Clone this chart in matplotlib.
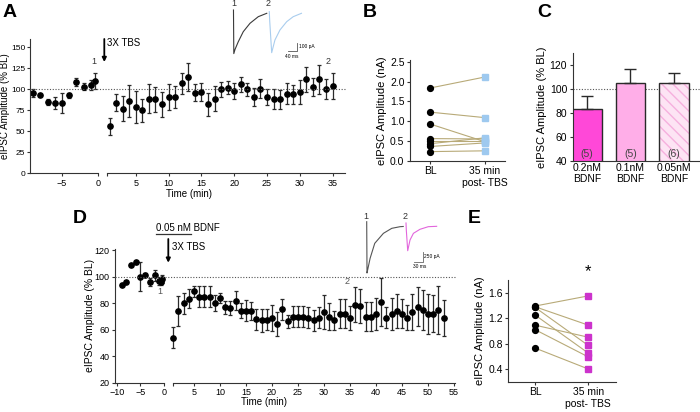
import matplotlib
matplotlib.use("Agg")
import matplotlib.pyplot as plt
from matplotlib.transforms import blended_transform_factory
from matplotlib.lines import Line2D

plt.rcParams['font.family'] = ['Liberation Sans', 'DejaVu Sans']

# ---------------- data ----------------
# Panel A
a_pre_t = [-9, -8, -7, -6, -5, -4, -3, -2, -1, -0.35]
a_pre_v = [96, 93, 85, 84, 84, 93, 109, 103, 105, 110]
a_pre_e = [5, 1, 4, 7, 12, 3, 5, 4, 6, 10]
a_post_t = list(range(1, 36))
a_post_v = [56, 84, 77, 86, 79, 75, 89, 88, 82, 91, 91, 107, 115, 96, 97, 82, 89, 100,
            102, 98, 106, 100, 91, 101, 91, 89, 88, 95, 94, 97, 112, 103, 112, 100, 104]
a_post_e = [10, 10, 15, 19, 19, 14, 17, 15, 15, 15, 13, 13, 17, 10, 11, 14, 15, 9,
            8, 9, 9, 8, 11, 11, 10, 12, 11, 12, 11, 14, 15, 11, 17, 12, 16]

# Panel B
b_bl = [1.84, 1.23, 0.93, 0.56, 0.50, 0.43, 0.36, 0.23]
b_post = [2.12, 1.09, 0.48, 0.55, 0.50, 0.58, 0.45, 0.25]
pair_labels = ['BL', '35 min\npost- TBS']

# Panel C
c_labels = ['0.2nM\nBDNF', '0.1nM\nBDNF', '0.05nM\nBDNF']
c_vals = [83, 105, 105]
c_errs = [11, 12, 8.5]
c_n = ['(5)', '(5)', '(6)']

# Panel D
d_pre_t = [-9, -8, -7, -6, -5, -4, -3, -2, -1, -0.65, -0.35]
d_pre_v = [94, 96, 109, 111, 100, 101.5, 96, 101, 97, 96, 98]
d_pre_e = [0.5, 0.5, 1, 1, 11, 1, 3, 4, 3, 2, 3]
d_post_t = list(range(1, 54))
d_post_v = [54, 74, 80, 83.5, 89, 85, 85, 85, 80, 84, 77, 76.5, 82, 74.5, 74.5, 74, 68, 67,
            67.5, 69, 64.5, 75.5, 66.5, 70, 70, 70, 69, 67, 69, 73.5, 70, 67, 72, 72, 69,
            79, 78, 70, 70, 72, 81, 69, 72, 74, 72, 69, 73.5, 77.5, 75, 72, 72, 75, 69]
d_post_e = [8, 11.5, 8, 7, 4, 8, 8, 8, 6, 4, 5, 5, 7, 6, 8, 7, 8, 9, 8, 10, 9, 8, 5, 8, 8,
            8, 8, 8, 8, 13, 10, 7, 11, 11, 9, 13, 13, 11, 11, 12, 18, 8, 12, 13, 11, 9.5,
            13.5, 15, 15, 15, 14, 18, 13.6]

# Panel E
e_bl = [1.39, 1.38, 1.37, 1.25, 1.09, 1.02, 0.73]
e_post = [1.55, 1.09, 0.77, 0.65, 0.90, 0.59, 0.40]

# example traces (ms, pA)
a_tr1_t = [0, 1.5, 7, 22, 45, 76, 114, 153]
a_tr1_i = [43, -524, -470, -370, -239, -130, -44, 0]
a_tr2_t = [0, 2, 11, 26, 49, 80, 110, 148]
a_tr2_i = [21, -100, -512, -347, -217, -109, -44, 0]
d_tr1_t = [0, 1, 3, 11, 26, 54, 81, 108, 118]
d_tr1_i = [107, -1175, -1100, -808, -433, -183, -58, -17, -12]
d_tr2_t = [0, 1, 5.5, 13, 24, 45, 72, 99]
d_tr2_i = [75, -100, -618, -350, -183, -83, -17, -8]

# ---------------- figure ----------------
W, H = 700, 412
fig = plt.figure(figsize=(7, 4.12), dpi=100)


def ax_px(x0, y0, x1, y1, **kw):
    return fig.add_axes([x0 / W, 1 - y1 / H, (x1 - x0) / W, (y1 - y0) / H], **kw)


def ftext(x, y, s, **kw):
    fig.text(x / W, 1 - y / H, s, **kw)


def style(ax, fs=6.5):
    for s in ['top', 'right']:
        ax.spines[s].set_visible(False)
    for s in ['left', 'bottom']:
        ax.spines[s].set_linewidth(0.8)
        ax.spines[s].set_color('#333333')
    ax.tick_params(labelsize=fs, length=2.5, width=0.8, color='#333333', pad=1.5)
    ax.patch.set_alpha(0)


ecol = '#2a2a2a'
ekw = dict(fmt='o', color='black', ms=3.8, ecolor=ecol, elinewidth=0.9, capsize=1.6, capthick=0.9)

# ===== Panel A =====
aL = ax_px(30, 39, 98, 173.3)
aR = ax_px(106.7, 39, 345, 173.3)
for ax in (aL, aR):
    style(ax)
    ax.set_ylim(0, 160)
aL.tick_params(axis='y', labelsize=6, pad=1)
aL.set_xlim(-9.44, 0)
aR.set_xlim(0.56, 36.9)
aL.set_yticks([0, 25, 50, 75, 100, 125, 150])
aL.set_xticks([-5, 0])
aR.set_xticks([5, 10, 15, 20, 25, 30, 35])
aR.set_xticks([0.56], minor=True)
aR.tick_params(which='minor', length=2.5, width=0.8, color='#333333')
aR.spines['left'].set_visible(False)
aR.set_yticks([])
aL.errorbar(a_pre_t, a_pre_v, yerr=a_pre_e, clip_on=False, **ekw)
aR.errorbar(a_post_t, a_post_v, yerr=a_post_e, clip_on=False, **ekw)
aL.set_ylabel('eIPSC Amplitude (% BL)', fontsize=7, va='center')
aL.yaxis.set_label_coords((5.5 - 30) / 68, 0.5)
aR.set_xlabel('Time (min)', fontsize=7, labelpad=1)
aR.xaxis.set_label_coords((189 - 106.7) / (345 - 106.7), -0.12)
trA = blended_transform_factory(fig.transFigure, aL.transData)
fig.add_artist(Line2D([30 / W, 345 / W], [100, 100], transform=trA, ls=(0, (1, 1.5)),
                      lw=0.8, color='#555555'))
ftext(3, 4, 'A', fontsize=14, fontweight='bold', va='top')
ftext(94, 62, '1', fontsize=6.5, ha='center', va='center', color='#333333')
ftext(328, 62, '2', fontsize=6.5, ha='center', va='center', color='#333333')
fig.add_artist(plt.Annotation('', xy=(104.3 / W, 1 - 62 / H), xytext=(104.3 / W, 1 - 39 / H),
                              xycoords='figure fraction', textcoords='figure fraction',
                              arrowprops=dict(arrowstyle='-|>', lw=1.3, color='black',
                                              mutation_scale=6, shrinkA=0, shrinkB=0)))
ftext(107, 43, '3X TBS', fontsize=7, va='center')

# A traces
tA = ax_px(230, 2, 310, 60)
tA.axis('off')
tA.set_xlim(-16, (310 - 233.5) * 4.6)
tA.set_ylim(-(60 - 13.3) * 13, (13.3 - 2) * 13)
tA.plot(a_tr1_t, a_tr1_i, color='#3a3a3a', lw=0.8)
off2 = (269.3 - 233.5) * 4.6
tA.plot([t + off2 for t in a_tr2_t], a_tr2_i, color='#a9cdee', lw=0.8)
sbx, sby = 290.7, -490
tA.plot([sbx - 40, sbx, sbx], [sby, sby, sby + 100], color='#555555', lw=0.6)
tA.text(sbx + 12, sby + 60, '100 pA', fontsize=3.5, va='center')
tA.text(sbx - 52, sby - 70, '40 ms', fontsize=3.5, va='center')
tA.text(0, 70, '1', fontsize=6.5, ha='center', va='bottom', color='#333333')
tA.text(off2 - 6, 70, '2', fontsize=6.5, ha='center', va='bottom', color='#333333')

# ===== Panel B =====
bx = ax_px(410, 60, 505, 160.7)
style(bx, 7.5)
bx.set_xlim(-0.364, 1.364)
bx.set_ylim(0, 2.55)
bx.set_yticks([0, 0.5, 1.0, 1.5, 2.0, 2.5])
bx.set_yticklabels(['0.0', '0.5', '1.0', '1.5', '2.0', '2.5'])
bx.set_xticks([0, 1])
bx.set_xticklabels(pair_labels, fontsize=7.5)
for a, b in zip(b_bl, b_post):
    bx.plot([0, 1], [a, b], color='#b8aa78', lw=0.8, zorder=1)
bx.plot([0] * len(b_bl), b_bl, 'o', color='black', ms=4.2, zorder=3, clip_on=False)
bx.plot([1] * len(b_post), b_post, 's', color='#9ec9ef', ms=4.2, zorder=3, clip_on=False)
bx.set_ylabel('eIPSC Amplitude (nA)', fontsize=8, labelpad=2)
ftext(363, 4, 'B', fontsize=14, fontweight='bold', va='top')

# ===== Panel C =====
cx = ax_px(572.7, 53.3, 700, 160.7)
style(cx, 7.5)
cx.set_xlim(-0.33, 2.6)
cx.set_ylim(40, 130)
cx.set_yticks([40, 60, 80, 100, 120])
cols = ['#ff48d8', '#ffaee8', '#fde4f4']
hatch_cols = ['none', 'none', '#f6b0de']
cx.axhline(100, ls=(0, (1, 1.5)), lw=0.8, color='#555555', zorder=1)
fill = cx.bar(range(3), c_vals, width=0.68, color=cols, edgecolor=hatch_cols, lw=0, zorder=2)
fill[2].set_hatch('\\\\\\')
fill[2].set_linewidth(0)
cx.bar(range(3), c_vals, width=0.68, fill=False, edgecolor='#2a2a2a', lw=1.0, zorder=3)
cx.errorbar(range(3), c_vals, yerr=[[0, 0, 0], c_errs], fmt='none', ecolor='#2a2a2a',
            elinewidth=1.0, capsize=4.5, capthick=1.0, zorder=3)
for i, n in enumerate(c_n):
    cx.text(i, 45.5, n, fontsize=7.5, ha='center', va='center', color='#444444', zorder=4)
cx.set_xticks(range(3))
cx.set_xticklabels(c_labels, fontsize=7.5)
cx.tick_params(axis='x', length=0)
cx.set_ylabel('eIPSC Amplitude (% BL)', fontsize=8, labelpad=2)
ftext(537, 4, 'C', fontsize=14, fontweight='bold', va='top')

# ===== Panel D =====
dL = ax_px(115, 249, 164, 382.7)
dR = ax_px(173.3, 249, 455, 382.7)
for ax in (dL, dR):
    style(ax)
    ax.set_ylim(20, 121)
dL.set_xlim(-10.4, 0)
dR.set_xlim(1.0, 55.2)
dL.set_yticks([20, 40, 60, 80, 100, 120])
dL.set_xticks([-10, -5, 0])
dR.set_xticks([5, 10, 15, 20, 25, 30, 35, 40, 45, 50, 55])
dR.set_xticks([1.0], minor=True)
dR.tick_params(which='minor', length=2.5, width=0.8, color='#333333')
dR.spines['left'].set_visible(False)
dR.set_yticks([])
dL.errorbar(d_pre_t, d_pre_v, yerr=d_pre_e, clip_on=False, **ekw)
dR.errorbar(d_post_t, d_post_v, yerr=d_post_e, clip_on=False, **ekw)
dL.set_ylabel('eIPSC Amplitude (% BL)', fontsize=7.5, va='center')
dL.yaxis.set_label_coords((90 - 115) / 49, 0.5)
dR.set_xlabel('Time (min)', fontsize=7, labelpad=1)
dR.xaxis.set_label_coords((264 - 173.3) / (455 - 173.3), -0.11)
trD = blended_transform_factory(fig.transFigure, dL.transData)
fig.add_artist(Line2D([115 / W, 455 / W], [100, 100], transform=trD, ls=(0, (1, 1.5)),
                      lw=0.8, color='#555555'))
ftext(73, 210, 'D', fontsize=14, fontweight='bold', va='top')
ftext(160, 291.5, '1', fontsize=6.5, ha='center', va='center', color='#555555')
ftext(346.7, 281.5, '2', fontsize=6.5, ha='center', va='center', color='#555555')
ftext(156, 228, '0.05 nM BDNF', fontsize=7, va='center')
fig.add_artist(Line2D([156 / W, 191 / W], [1 - 234 / H, 1 - 234 / H], color='#333333', lw=0.9))
fig.add_artist(plt.Annotation('', xy=(168.3 / W, 1 - 262.7 / H), xytext=(168.3 / W, 1 - 239 / H),
                              xycoords='figure fraction', textcoords='figure fraction',
                              arrowprops=dict(arrowstyle='-|>', lw=1.3, color='black',
                                              mutation_scale=6, shrinkA=0, shrinkB=0)))
ftext(172, 247.5, '3X TBS', fontsize=7, va='center')

# D traces
tD = ax_px(362, 212, 445, 275)
tD.axis('off')
tD.set_xlim(-(366.7 - 362) * 3.23, (445 - 366.7) * 3.23)
tD.set_ylim(-(275 - 226) * 25, (226 - 212) * 25)
tD.plot(d_tr1_t, d_tr1_i, color='#555555', lw=0.8)
offD = (406 - 366.7) * 3.23
tD.plot([t + offD for t in d_tr2_t], d_tr2_i, color='#e266dc', lw=0.8)
sx, sy = (423.3 - 366.7) * 3.23, -(261.7 - 226) * 25
tD.plot([sx - 30, sx, sx], [sy, sy, sy + 250], color='#666666', lw=0.6)
tD.text(sx + 3, sy + 125, '250 pA', fontsize=3.5, va='center')
tD.text(sx - 33, sy - 130, '30 ms', fontsize=3.5, va='center')
tD.text(-2, 120, '1', fontsize=6.5, ha='center', va='bottom', color='#333333')
tD.text(offD - 4, 120, '2', fontsize=6.5, ha='center', va='bottom', color='#333333')

# ===== Panel E =====
ex = ax_px(508.3, 280, 616, 381.7)
style(ex, 7.5)
ex.set_xlim(-0.5, 1.52)
ex.set_ylim(0.2, 1.8)
ex.set_yticks([0.4, 0.8, 1.2, 1.6])
ex.set_xticks([0, 1])
ex.set_xticklabels(pair_labels, fontsize=7.5)
for a, b in zip(e_bl, e_post):
    ex.plot([0, 1], [a, b], color='#b8aa78', lw=0.8, zorder=1)
ex.plot([0] * len(e_bl), e_bl, 'o', color='black', ms=4.2, zorder=3, clip_on=False)
ex.plot([1] * len(e_post), e_post, 's', color='#cc33cc', ms=4.2, zorder=3, clip_on=False)
ex.text(1, 1.93, '*', fontsize=12, ha='center', va='center')
ex.set_ylabel('eIPSC Amplitude (nA)', fontsize=8, labelpad=2)
ftext(468, 210, 'E', fontsize=14, fontweight='bold', va='top')

fig.savefig('out.png', dpi=100)
